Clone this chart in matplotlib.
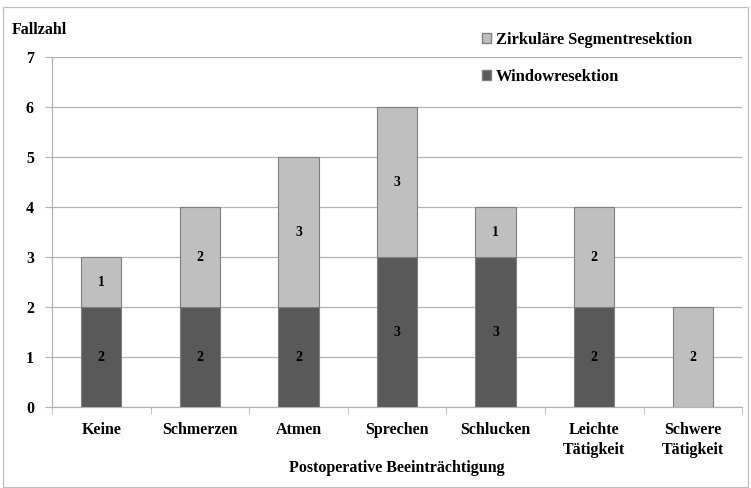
import matplotlib.pyplot as plt
import numpy as np
from matplotlib.patches import Rectangle, Patch

kategorien = ['Keine', 'Schmerzen', 'Atmen', 'Sprechen', 'Schlucken',
              'Leichte\nTätigkeit', 'Schwere\nTätigkeit']
window = [2, 2, 2, 3, 3, 2, 0]
zirkulaer = [1, 2, 3, 3, 1, 2, 2]

plt.rcParams['font.family'] = ['Liberation Serif', 'DejaVu Serif']
plt.rcParams['font.weight'] = 'bold'

fig = plt.figure(figsize=(7.51, 4.88), dpi=100)
ax = fig.add_axes([0.0692, 0.166, 0.919, 0.717])

x = np.arange(len(kategorien))
ax.bar(x, window, width=0.41, color='#595959', edgecolor='#7f7f7f', linewidth=0.8, zorder=3)
ax.bar(x, zirkulaer, width=0.41, bottom=window, color='#bfbfbf', edgecolor='#7f7f7f',
       linewidth=0.8, zorder=3)

for i in range(len(kategorien)):
    if window[i] > 0:
        ax.text(x[i], window[i] / 2, str(window[i]), ha='center', va='center',
                fontsize=10, fontweight='bold', zorder=4)
    if zirkulaer[i] > 0:
        ax.text(x[i], window[i] + zirkulaer[i] / 2, str(zirkulaer[i]), ha='center', va='center',
                fontsize=10, fontweight='bold', zorder=4)

ax.set_xlim(-0.5, len(kategorien) - 0.5)
ax.set_ylim(0, 7)
ax.set_yticks(range(8))
ax.yaxis.grid(True, color='#b3b3b3', linewidth=0.9, zorder=0)
ax.set_axisbelow(True)

ax.set_xticks(x)
ax.set_xticklabels(kategorien, fontsize=11.5, fontweight='bold', linespacing=1.35)
ax.set_xticks(np.arange(-0.5, len(kategorien)), minor=True)
ax.tick_params(axis='x', which='major', length=0, pad=11)
ax.tick_params(axis='x', which='minor', length=5, color='#b3b3b3', direction='out')
ax.tick_params(axis='y', length=5, color='#b3b3b3', labelsize=11.5, pad=8)
for lab in ax.get_yticklabels():
    lab.set_fontweight('bold')

for s in ['top', 'right']:
    ax.spines[s].set_visible(False)
for s in ['left', 'bottom']:
    ax.spines[s].set_color('#b3b3b3')
    ax.spines[s].set_linewidth(0.9)

ax.set_xlabel('Postoperative Beeinträchtigung', fontsize=11.5, fontweight='bold', labelpad=1)
fig.text(0.016, 0.938, 'Fallzahl', fontsize=11.5, fontweight='bold', ha='left', va='center')

handles = [Patch(facecolor='#bfbfbf', edgecolor='#7f7f7f', label='Zirkuläre Segmentresektion'),
           Patch(facecolor='#595959', edgecolor='#7f7f7f', label='Windowresektion')]
fig.legend(handles=handles, loc='upper left', bbox_to_anchor=(0.622, 0.965), frameon=False,
           labelspacing=1.3, handlelength=0.55, handleheight=0.55,
           handletextpad=0.3, prop={'weight': 'bold', 'size': 11.8})

fig.patches.append(Rectangle((0.004, 0.002), 0.992, 0.984, transform=fig.transFigure,
                             fill=False, edgecolor='#bfbfbf', linewidth=0.9))

fig.savefig('out.png', dpi=100)
